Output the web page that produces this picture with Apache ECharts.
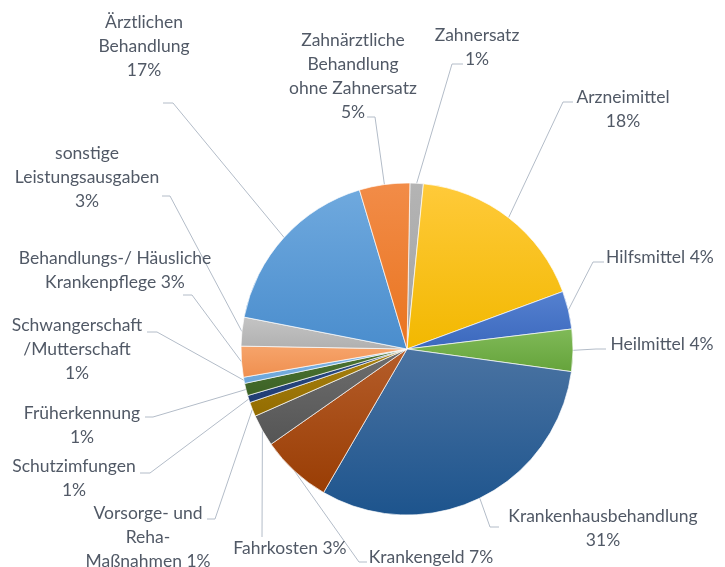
<!DOCTYPE html>
<html>
<head>
<meta charset="utf-8">
<title>Leistungsausgaben</title>
<script src="https://cdn.jsdelivr.net/npm/echarts@6/dist/echarts.min.js"></script>
<style>
  html, body { margin: 0; padding: 0; background: #fff; }
  #chart { width: 725px; height: 567px; }
</style>
</head>
<body>
<div id="chart"></div>
<script>
// data, clockwise from 12 o'clock
var categories = ['Zahnersatz', 'Arzneimittel', 'Hilfsmittel', 'Heilmittel', 'Krankenhausbehandlung',
  'Krankengeld', 'Fahrkosten', 'Vorsorge- und Reha-Maßnahmen', 'Schutzimfungen', 'Früherkennung',
  'Schwangerschaft/Mutterschaft', 'Behandlungs-/ Häusliche Krankenpflege', 'sonstige Leistungsausgaben',
  'Ärztlichen Behandlung', 'Zahnärztliche Behandlung ohne Zahnersatz'];
var values = [1.3, 17.8, 3.7, 4.1, 31.2, 6.9, 3.1, 1.4, 0.7, 1.2, 0.6, 3.0, 2.8, 17.3, 4.9];
// label text as printed, {p} = percentage
var labelTexts = ['Zahnersatz\n{p}', 'Arzneimittel\n{p}', 'Hilfsmittel {p}', 'Heilmittel {p}',
  'Krankenhausbehandlung\n{p}', 'Krankengeld {p}', 'Fahrkosten {p}', 'Vorsorge- und\nReha-\nMaßnahmen {p}',
  'Schutzimfungen\n{p}', 'Früherkennung\n{p}', 'Schwangerschaft\n/Mutterschaft\n{p}',
  'Behandlungs-/ Häusliche\nKrankenpflege {p}', 'sonstige\nLeistungsausgaben\n{p}',
  'Ärztlichen\nBehandlung\n{p}', 'Zahnärztliche\nBehandlung\nohne Zahnersatz\n{p}'];

// styles
var topColors = ['#b4b4b4', '#ffca3a', '#5581d0', '#80ba58', '#4a73a2', '#b55d2a', '#6e6e6e', '#a88212',
  '#2f4f86', '#4d7534', '#80b5e4', '#f6a46b', '#c4c4c4', '#6fa9de', '#f28c48'];
var baseColors = ['#a3a3a3', '#f2b800', '#3b68bd', '#65a33b', '#1d548d', '#993d04', '#555555', '#936c00',
  '#1f3c73', '#3c6225', '#6aa5d9', '#ef8f4f', '#b0b0b0', '#4a8dcd', '#e9741f'];

// label placement: [centerX, centerY, hookX, hookY, stubX]
var labelPlaces = [
  [477, 47, 463, 64, 452],
  [623, 109, 573, 102, 563],
  [660, 257, 604, 262, 593],
  [662, 344, 606, 349, 596],
  [603, 528, 499, 527, 490],
  [431, 557, 367, 562, 359],
  [290, 548, 262, 537, 262],
  [148, 537, 207, 519, 215],
  [74, 478, 140, 473, 150],
  [82, 425, 145, 417, 153],
  [77, 349, 147, 332, 157],
  [115, 270, 183, 295, 192],
  [87, 177, 162, 196, 170],
  [144, 46, 163, 103, 173],
  [353, 76, 367, 117, 375]
];

var total = values.reduce(function (a, b) { return a + b; }, 0);
var pieCenter = [407, 349];
var pieRadius = 166;

var pieData = categories.map(function (name, i) {
  return {
    name: name,
    value: values[i],
    itemStyle: {
      color: new echarts.graphic.LinearGradient(0, 0, 0, 1, [
        { offset: 0, color: topColors[i] },
        { offset: 1, color: baseColors[i] }
      ])
    }
  };
});

// fallback edge point at the slice's middle angle
function edgePoint(idx) {
  var before = 0;
  for (var k = 0; k < idx; k++) before += values[k];
  var a = (before + values[idx] / 2) / total * 2 * Math.PI + (90 - 89) * Math.PI / 180;
  return [pieCenter[0] + pieRadius * Math.sin(a), pieCenter[1] - pieRadius * Math.cos(a)];
}

var chart = echarts.init(document.getElementById('chart'));
var options = {
  animation: false,
  series: [{
    type: 'pie',
    center: pieCenter,
    radius: pieRadius,
    startAngle: 89,
    clockwise: true,
    avoidLabelOverlap: false,
    data: pieData,
    itemStyle: { borderColor: 'rgba(255,255,255,0.85)', borderWidth: 0.8 },
    emphasis: { disabled: true },
    label: {
      show: true,
      position: 'outside',
      color: '#515966',
      fontFamily: 'Lato',
      fontSize: 17.5,
      lineHeight: 24,
      align: 'center',
      formatter: function (p) {
        return labelTexts[p.dataIndex].replace('{p}', Math.round(p.value / total * 100) + '%');
      }
    },
    labelLine: {
      show: true,
      length: 10,
      length2: 10,
      lineStyle: { color: '#b3bcc8', width: 1 }
    },
    labelLayout: function (params) {
      var pl = labelPlaces[params.dataIndex];
      var start = (params.labelLinePoints && params.labelLinePoints[0]) || edgePoint(params.dataIndex);
      return {
        x: pl[0],
        y: pl[1],
        align: 'center',
        verticalAlign: 'middle',
        labelLinePoints: [start, [pl[4], pl[3]], [pl[2], pl[3]]]
      };
    }
  }]
};
chart.setOption(options);
</script>
</body>
</html>
